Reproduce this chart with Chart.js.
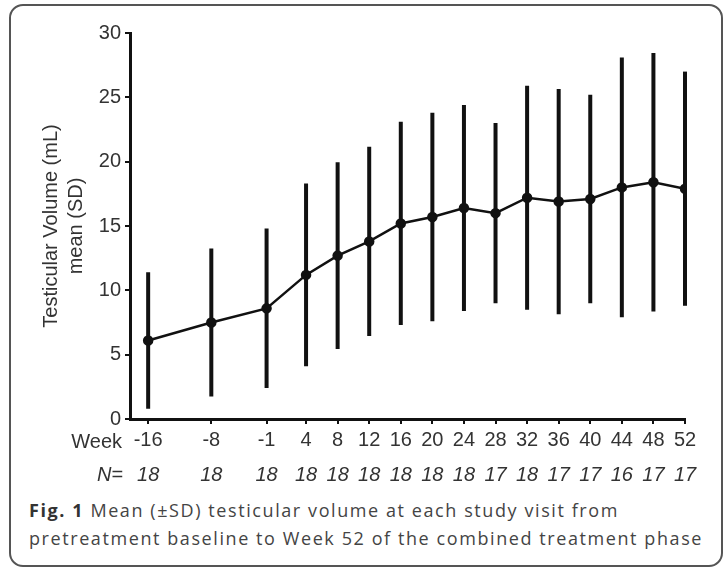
<!DOCTYPE html>
<html>
<head>
<meta charset="utf-8">
<script src="https://cdn.jsdelivr.net/npm/chart.js@4"></script>
<style>
body { margin: 0; background: #fff; }
#box { position: absolute; left: 9px; top: 4px; width: 710px; height: 559px; border: 2px solid #555; border-radius: 14px; }
#wrap { position: absolute; left: 0; top: 0; width: 725px; height: 490px; }
#cap { position: absolute; left: 29px; top: 496px; font: 18px 'Open Sans'; color: #444; line-height: 28px; white-space: nowrap; }
#cap b { color: #333; }
</style>
</head>
<body>
<div id="box"></div>
<div id="wrap"><canvas id="chart"></canvas></div>
<div id="cap"><span id="l1"><b>Fig. 1</b> Mean (±SD) testicular volume at each study visit from</span><br><span id="l2">pretreatment baseline to Week 52 of the combined treatment phase</span></div>
<script>
// dati
const weeks = [-16, -8, -1, 4, 8, 12, 16, 20, 24, 28, 32, 36, 40, 44, 48, 52];
const meanVol = [6.1, 7.5, 8.6, 11.2, 12.7, 13.8, 15.2, 15.7, 16.4, 16.0, 17.2, 16.9, 17.1, 18.0, 18.4, 17.9];
const sdVol = [5.3, 5.75, 6.2, 7.1, 7.25, 7.35, 7.9, 8.1, 8.0, 7.0, 8.7, 8.75, 8.1, 10.1, 10.05, 9.1];
const nCount = [18, 18, 18, 18, 18, 18, 18, 18, 18, 17, 18, 17, 17, 16, 17, 17];
const yTicks = [0, 5, 10, 15, 20, 25, 30];

Chart.defaults.font.family = "'Liberation Sans', Arial, sans-serif";
Chart.defaults.color = '#333';

// barre di errore (media +- SD)
const errorBars = {
  id: 'errorBars',
  beforeDatasetsDraw(chart) {
    const ctx = chart.ctx, x = chart.scales.x, y = chart.scales.y;
    ctx.save();
    ctx.strokeStyle = '#111';
    ctx.lineWidth = 4;
    weeks.forEach((w, i) => {
      const px = x.getPixelForValue(w);
      ctx.beginPath();
      ctx.moveTo(px, y.getPixelForValue(meanVol[i] - sdVol[i]));
      ctx.lineTo(px, y.getPixelForValue(meanVol[i] + sdVol[i]));
      ctx.stroke();
    });
    ctx.restore();
  }
};

// riga "Week" e riga N=
const nRow = {
  id: 'nRow',
  afterDraw(chart) {
    const ctx = chart.ctx, x = chart.scales.x;
    ctx.save();
    ctx.fillStyle = '#333';
    ctx.textBaseline = 'middle';
    ctx.font = "20px 'Liberation Sans'";
    ctx.textAlign = 'right';
    ctx.fillText('Week', 122, 442);
    ctx.font = "italic 20px 'Liberation Sans'";
    ctx.fillText('N=', 123, 475);
    ctx.textAlign = 'center';
    weeks.forEach((w, i) => {
      ctx.fillText(String(nCount[i]), x.getPixelForValue(w), 475);
    });
    ctx.restore();
  }
};

const chart = new Chart(document.getElementById('chart').getContext('2d'), {
  type: 'line',
  data: {
    datasets: [{
      label: 'mean',
      data: weeks.map((w, i) => ({ x: w, y: meanVol[i] })),
      borderColor: '#111',
      borderWidth: 2.5,
      pointRadius: 4,
      pointBackgroundColor: '#111',
      pointBorderColor: '#111',
      tension: 0
    }]
  },
  options: {
    responsive: true,
    maintainAspectRatio: false,
    animation: false,
    layout: { padding: { left: 0, top: 33, right: 40, bottom: 41 } },
    plugins: { legend: { display: false }, tooltip: { enabled: false } },
    scales: {
      x: {
        type: 'linear',
        min: -18.3,
        max: 52,
        afterBuildTicks: s => { s.ticks = weeks.map(v => ({ value: v })); },
        afterFit: s => { s.height = 30; },
        ticks: { autoSkip: false, maxRotation: 0, padding: 4, font: { size: 20 }, callback: v => String(v) },
        grid: { drawOnChartArea: false, tickLength: 5, color: '#111', lineWidth: 2 },
        border: { color: '#111', width: 3 }
      },
      y: {
        min: 0,
        max: 30,
        afterBuildTicks: s => { s.ticks = yTicks.map(v => ({ value: v })); },
        afterFit: s => { s.width = 130; },
        ticks: { padding: 4, font: { size: 20 } },
        grid: { drawOnChartArea: false, tickLength: 5, color: '#111', lineWidth: 2 },
        border: { color: '#111', width: 3 },
        title: {
          display: true,
          text: ['Testicular Volume (mL)', 'mean (SD)'],
          font: { size: 20, lineHeight: 1.25 },
          padding: { top: 39, bottom: 0 },
          color: '#333'
        }
      }
    }
  },
  plugins: [errorBars, nRow]
});

// allarga la didascalia come nell'originale
const l2 = document.getElementById('l2'), l1 = document.getElementById('l1');
const extra = (674 - l2.getBoundingClientRect().width) / l2.textContent.length;
l1.style.letterSpacing = l2.style.letterSpacing = extra + 'px';
</script>
</body>
</html>
